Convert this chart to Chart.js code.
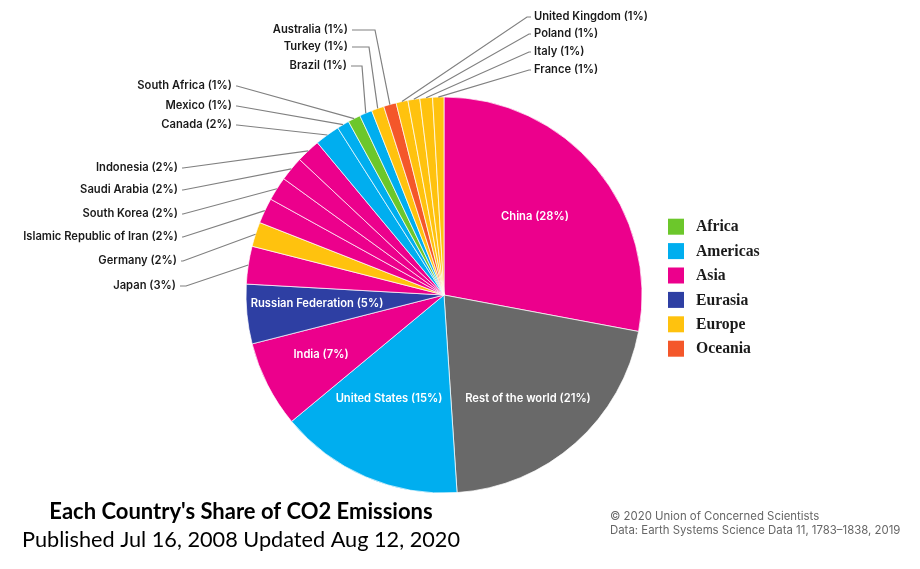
<!DOCTYPE html>
<html>
<head>
<meta charset="utf-8">
<title>Each Country's Share of CO2 Emissions</title>
<script src="https://cdn.jsdelivr.net/npm/chart.js@4"></script>
<style>
    html, body { margin: 0; padding: 0; background: #fff; }
    canvas { display: block; }
</style>
</head>
<body>
<canvas id="graficoEmisiones" width="920" height="569"></canvas>
<script>
// clockwise from 12 o'clock
const countries = ['China', 'Rest of the world', 'United States', 'India', 'Russian Federation', 'Japan', 'Germany',
    'Islamic Republic of Iran', 'South Korea', 'Saudi Arabia', 'Indonesia', 'Canada', 'Mexico', 'South Africa',
    'Brazil', 'Turkey', 'Australia', 'United Kingdom', 'Poland', 'Italy', 'France'];
const sliceValues = [27.95, 21, 15.03, 7.05, 4.85, 3.08, 2, 2.08, 1.95, 2, 1.97, 2.03, 1, 1.03, 1.03, 1.03, 1.03, 0.97, 0.97, 1.03, 0.92];
const shownPercent = [28, 21, 15, 7, 5, 3, 2, 2, 2, 2, 2, 2, 1, 1, 1, 1, 1, 1, 1, 1, 1];
const regionOf = ['Asia', null, 'Americas', 'Asia', 'Eurasia', 'Asia', 'Europe', 'Asia', 'Asia', 'Asia', 'Asia',
    'Americas', 'Americas', 'Africa', 'Americas', 'Europe', 'Oceania', 'Europe', 'Europe', 'Europe', 'Europe'];
const regions = ['Africa', 'Americas', 'Asia', 'Eurasia', 'Europe', 'Oceania'];

const regionColors = {
    Africa: '#6CC72B', Americas: '#00AEEF', Asia: '#EC008C',
    Eurasia: '#2E3FA3', Europe: '#FFC20E', Oceania: '#F4572A'
};
const restColor = '#696969';

// white labels inside the big slices: [x, y] of the text centre
const insideLabels = {
    'China': [535, 217], 'Rest of the world': [528, 399], 'United States': [389, 399],
    'India': [321, 355], 'Russian Federation': [317, 304]
};
// outside labels: text anchor x, y, then the x where the leader leaves its short horizontal run
const outsideLabels = {
    'Australia': [348, 30, 375], 'Turkey': [348, 47, 369], 'Brazil': [347, 66, 362],
    'South Africa': [232, 86, 237], 'Mexico': [232, 106, 237], 'Canada': [232, 125, 237],
    'Indonesia': [178, 168, 183], 'Saudi Arabia': [178, 190, 183], 'South Korea': [178, 214, 183],
    'Islamic Republic of Iran': [178, 237, 183], 'Germany': [177, 261, 183], 'Japan': [176, 286, 186],
    'United Kingdom': [534, 17, 527], 'Poland': [534, 34, 529], 'Italy': [534, 52, 529], 'France': [534, 70, 529]
};

const labelFont = '600 11.2px Inter';
const textOut = function(ctx, str, x, y, font, color, align) {
    ctx.font = font;
    ctx.fillStyle = color;
    ctx.textAlign = align || 'left';
    ctx.textBaseline = 'middle';
    ctx.fillText(str, x, y);
};

const sliceLabels = {
    id: 'sliceLabels',
    afterDraw(chart) {
        const ctx = chart.ctx;
        const arcs = chart.getDatasetMeta(0).data;
        ctx.save();
        countries.forEach((name, i) => {
            const text = name + ' (' + shownPercent[i] + '%)';
            if (insideLabels[name]) {
                textOut(ctx, text, insideLabels[name][0], insideLabels[name][1], labelFont, '#fff', 'center');
                return;
            }
            const spot = outsideLabels[name];
            const arc = arcs[i];
            const mid = (arc.startAngle + arc.endAngle) / 2;
            const onRight = spot[0] > arc.x;
            ctx.strokeStyle = '#808080';
            ctx.lineWidth = 1.2;
            ctx.beginPath();
            ctx.moveTo(spot[0] + (onRight ? -3 : 4), spot[1]);
            ctx.lineTo(spot[2], spot[1]);
            ctx.lineTo(arc.x + Math.cos(mid) * arc.outerRadius, arc.y + Math.sin(mid) * arc.outerRadius);
            ctx.stroke();
            textOut(ctx, text, spot[0], spot[1], labelFont, '#1a1a1a', onRight ? 'left' : 'right');
        });

        // continent key
        regions.forEach((r, i) => {
            const y = 226.7 + i * 24.4;
            ctx.fillStyle = regionColors[r];
            ctx.fillRect(668, y - 8, 16, 16);
            textOut(ctx, r, 696, y + 0.6, 'bold 15.7px "Liberation Serif"', '#1a1a1a');
        });

        textOut(ctx, "Each Country's Share of CO2 Emissions", 241, 512, 'bold 22px Lato', '#000', 'center');
        textOut(ctx, 'Published Jul 16, 2008 Updated Aug 12, 2020', 241, 540, '21.7px Lato', '#000', 'center');
        textOut(ctx, '© 2020 Union of Concerned Scientists', 610, 517, '11.4px Inter', '#666');
        textOut(ctx, 'Data: Earth Systems Science Data 11, 1783–1838, 2019', 610, 531, '11.4px Inter', '#666');
        ctx.restore();
    }
};

new Chart(document.getElementById('graficoEmisiones').getContext('2d'), {
    type: 'pie',
    data: {
        labels: countries,
        datasets: [{
            data: sliceValues,
            backgroundColor: regionOf.map(r => r ? regionColors[r] : restColor),
            borderColor: 'rgba(255,255,255,0.7)',
            borderWidth: 1
        }]
    },
    options: {
        responsive: false,
        animation: false,
        radius: 198,
        layout: { padding: { top: 21, right: 32 } },
        plugins: { legend: { display: false }, tooltip: { enabled: false } }
    },
    plugins: [sliceLabels]
});
</script>
</body>
</html>
